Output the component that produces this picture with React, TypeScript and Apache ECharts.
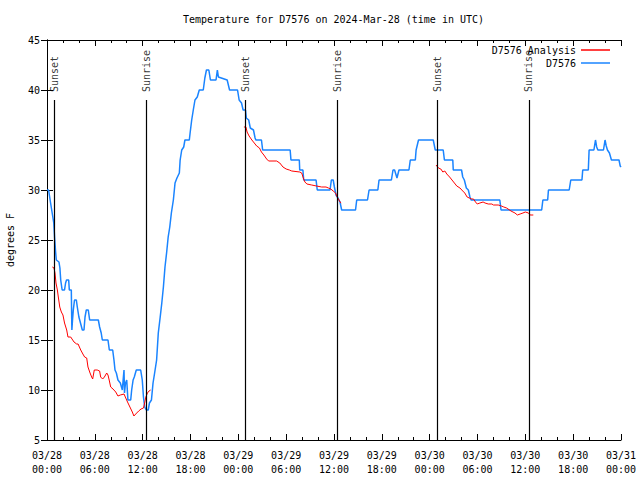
import React, { useEffect, useRef } from "react";
import * as echarts from "echarts";

// time in hours since 2024-03-28 00:00 UTC, temperature in °F
const observedHours = [0, 0.2, 0.45, 0.65, 0.85, 0.95, 1.08, 1.17, 1.5, 1.62, 1.72, 1.9, 2.2, 2.33, 2.45, 2.72, 2.8, 3.05, 3.12, 3.2, 3.3, 3.45, 3.68, 3.8, 4.0, 4.2, 4.43, 4.64, 4.77, 4.93, 5.18, 5.35, 6.44, 6.6, 6.8, 6.94, 7.65, 7.82, 8.24, 8.4, 8.53, 8.7, 8.9, 9.2, 9.45, 9.55, 9.66, 9.72, 9.85, 10.0, 10.15, 10.5, 10.62, 10.8, 10.95, 11.2, 11.75, 11.95, 12.1, 12.25, 12.45, 12.7, 12.85, 13.1, 13.3, 13.5, 13.75, 13.96, 14.2, 14.4, 14.6, 14.8, 15.0, 15.2, 15.4, 15.6, 15.85, 16.06, 16.3, 16.6, 16.7, 16.9, 17.15, 17.3, 17.85, 17.95, 18.15, 18.35, 18.56, 18.85, 19.1, 19.6, 19.8, 20.0, 20.3, 20.5, 21.2, 21.37, 21.5, 22.6, 22.9, 23.9, 24.1, 24.4, 24.6, 24.9, 25.0, 25.3, 25.5, 25.9, 26.1, 26.2, 26.9, 27.05, 30.5, 30.6, 31.65, 31.7, 32.1, 32.2, 33.75, 33.9, 35.5, 35.67, 35.9, 36.05, 36.25, 36.5, 36.75, 36.96, 38.7, 38.85, 40.2, 40.4, 41.5, 41.65, 43.2, 43.4, 43.6, 43.9, 44.15, 45.4, 45.57, 46.2, 46.3, 46.6, 48.45, 48.7, 49.7, 49.85, 50.9, 50.96, 52.0, 52.15, 52.35, 52.6, 52.85, 53.05, 53.2, 56.8, 56.95, 62.05, 62.2, 62.8, 62.9, 65.5, 65.7, 67.1, 67.2, 67.9, 68.0, 68.6, 68.8, 68.95, 69.1, 69.8, 70.0, 70.15, 70.3, 70.55, 70.8, 71.75, 71.9, 72];
const observedTemps = [30, 30, 28.7, 27.7, 26.7, 25.3, 23.8, 23, 22.8, 22.2, 21, 20, 20, 20.7, 21, 21, 20, 20, 16, 17, 18, 19, 19, 18.3, 17.3, 16.7, 16, 16, 17.3, 18, 18, 17, 17, 16.3, 15.7, 15, 15, 14, 14, 13, 12, 11.7, 11, 10.7, 10, 11, 12, 9.7, 10.7, 11, 9, 9, 10, 11, 11.3, 12, 12, 11, 9.3, 8.3, 8, 8, 8.7, 9, 10.7, 11.7, 13, 15.7, 17.3, 18.7, 20.3, 22.3, 23.7, 25.3, 26.3, 27.7, 29, 30.7, 31.2, 31.7, 33, 34, 34.3, 35, 35, 35.7, 37, 38, 39, 39.3, 40, 40, 41.2, 42, 42, 41, 41, 42, 41.3, 41, 40, 40, 39, 38.7, 38, 38, 37.2, 37, 36.2, 36, 35.2, 35, 35, 34, 34, 33, 33, 32, 32, 31, 31, 30, 30, 31, 31, 30.3, 29.5, 29.2, 28.8, 28, 28, 29, 29, 30, 30, 31, 31, 32, 32, 31.2, 32, 32, 33, 33, 34, 35, 35, 34, 34, 33, 33, 32, 32, 31.3, 31, 30.2, 30, 29.3, 29, 29, 28, 28, 29, 29, 30, 30, 31, 31, 32, 32, 34, 34, 35, 34.3, 34, 34, 35, 34.4, 34, 33.7, 33, 33, 32.4, 32.3];

const analysisHours1 = [0.67, 0.88, 1.0, 1.13, 1.3, 1.42, 1.6, 1.8, 2.0, 2.2, 2.47, 2.63, 2.97, 3.39, 3.72, 3.9, 4.23, 4.5, 4.72, 4.98, 5.14, 5.4, 5.6, 5.73, 5.93, 6.3, 6.6, 6.73, 6.98, 7.2, 7.49, 7.65, 7.8, 7.99, 8.28, 8.62, 8.9, 9.2, 9.66, 10.1, 10.4, 10.7, 10.9, 11.25, 11.5, 11.8, 12.1, 12.25, 12.4, 12.6, 12.8, 13.0];
const analysisTemps1 = [22.3, 22.2, 21.7, 20.7, 20, 19.3, 18.3, 17.8, 17.5, 16.7, 16, 15.3, 15.3, 14.8, 14.6, 14.6, 14, 13.6, 13.3, 13.2, 12.3, 11.7, 11.3, 11.1, 12, 12, 11.9, 11.3, 11.1, 11.3, 11.7, 11.5, 11, 10.3, 10.1, 9.8, 9.4, 9.5, 9.6, 8.8, 8.3, 7.8, 7.4, 7.7, 7.9, 8.1, 8.2, 8.7, 9.3, 9.7, 9.9, 10];
const analysisHours2 = [24.7, 24.95, 25.1, 25.35, 25.7, 26.0, 26.3, 26.65, 26.9, 27.2, 27.55, 27.8, 28.8, 29.2, 29.6, 30.0, 30.4, 30.7, 31.7, 31.95, 32.15, 32.35, 32.6, 33.2, 33.8, 34.45, 35.0, 35.3, 35.6, 35.9, 36.2, 36.4, 36.55, 36.76, 36.9];
const analysisTemps2 = [36.3, 36.3, 35.8, 35.4, 35, 34.7, 34.4, 34.2, 33.8, 33.5, 33.1, 32.9, 32.9, 32.7, 32.3, 32.1, 32, 31.9, 31.8, 31.7, 31.2, 30.8, 30.6, 30.5, 30.4, 30.3, 30.3, 30.2, 30.1, 29.9, 29.7, 29.3, 29.1, 28.8, 28.7];
const analysisHours3 = [48.8, 49.1, 49.4, 49.65, 49.9, 50.15, 50.5, 50.8, 51.1, 51.4, 51.8, 52.15, 52.4, 52.7, 52.97, 53.27, 53.5, 53.75, 53.97, 54.3, 54.7, 54.95, 55.35, 55.8, 56.0, 56.6, 57.0, 57.3, 57.65, 58.2, 58.7, 59.0, 59.35, 59.7, 60.0, 60.4, 60.6, 61.0];
const analysisTemps3 = [32.5, 32.2, 32.1, 31.8, 31.9, 31.6, 31.3, 31, 30.7, 30.4, 30.2, 29.9, 29.7, 29.3, 29.2, 29.1, 29.1, 28.8, 28.6, 28.7, 28.8, 28.7, 28.6, 28.6, 28.5, 28.5, 28.4, 28.3, 28.2, 27.9, 27.7, 27.5, 27.6, 27.7, 27.8, 27.7, 27.5, 27.5];

const sunsetHours = [0.88, 24.93, 48.95];
const sunriseHours = [12.42, 36.38, 60.45];
const sunLineTop = 39;
const sunLabelBase = 39.8;

const FONT = "DejaVu Sans Mono";

const zip = (xs: number[], ys: number[]) => xs.map((x, i) => [x, ys[i]]);

export default function App() {
  const ref = useRef<HTMLDivElement>(null);
  useEffect(() => {
    document.body.style.margin = "0";
    const chart = echarts.init(ref.current!, null, { renderer: "svg" });
    const redColor = "#ff0000";
    const blueColor = "#1a84ff";
    const textStyle = { fontFamily: FONT, fontSize: 10, color: "#000" };
    const events = [
      ...sunsetHours.map((h) => ({ h, name: "Sunset" })),
      ...sunriseHours.map((h) => ({ h, name: "Sunrise" })),
    ];
    const xCommon = {
      type: "value" as const,
      min: 0,
      max: 72,
      interval: 6,
      axisLine: { show: true, lineStyle: { color: "#000", width: 1 } },
      axisTick: { show: true, inside: true, length: 6, lineStyle: { color: "#000" } },
      minorTick: { show: true, splitNumber: 3, length: 3, lineStyle: { color: "#000" } },
      splitLine: { show: false },
    };
    const yCommon = {
      type: "value" as const,
      min: 5,
      max: 45,
      interval: 5,
      axisLine: { show: true, lineStyle: { color: "#000", width: 1 } },
      axisTick: { show: true, inside: true, length: 6, lineStyle: { color: "#000" } },
      splitLine: { show: false },
    };
    const analysisSeries = [
      zip(analysisHours1, analysisTemps1),
      zip(analysisHours2, analysisTemps2),
      zip(analysisHours3, analysisTemps3),
    ].map((data) => ({
      name: "D7576 Analysis",
      type: "line" as const,
      data,
      symbol: "none",
      lineStyle: { color: redColor, width: 1 },
      itemStyle: { color: redColor },
      z: 3,
    }));
    const legendCommon = {
      right: 30,
      padding: 0,
      align: "right" as const,
      icon: "rect",
      itemWidth: 29,
      itemHeight: 1.5,
      textStyle,
      itemGap: 0,
    };
    chart.setOption({
      animation: false,
      backgroundColor: "#fff",
      textStyle: { fontFamily: FONT },
      title: {
        text: "Temperature for D7576 on 2024-Mar-28 (time in UTC)",
        left: 183,
        top: 14,
        padding: 0,
        textStyle: { ...textStyle, fontWeight: "normal" },
      },
      legend: [
        { ...legendCommon, data: ["D7576 Analysis"], top: 45 },
        { ...legendCommon, data: ["D7576"], top: 58 },
      ],
      grid: {
        left: 47,
        right: 19,
        top: 40,
        bottom: 40,
        containLabel: false,
        outerBoundsMode: "none",
      },
      xAxis: [
        {
          ...xCommon,
          position: "bottom",
          axisLabel: {
            ...textStyle,
            margin: 8,
            lineHeight: 14,
            formatter: (v: number) => {
              const d = 28 + Math.floor(v / 24);
              const hh = v % 24;
              return `03/${d}\n${String(hh).padStart(2, "0")}:00`;
            },
          },
        },
        { ...xCommon, position: "top", axisLabel: { show: false } },
      ],
      yAxis: [
        {
          ...yCommon,
          position: "left",
          name: "degrees F",
          nameLocation: "middle",
          nameGap: 32,
          nameRotate: 90,
          nameTextStyle: textStyle,
          axisLabel: { ...textStyle, margin: 7 },
        },
        { ...yCommon, position: "right", axisLabel: { show: false } },
      ],
      series: [
        ...analysisSeries,
        {
          name: "D7576",
          type: "line",
          data: zip(observedHours, observedTemps),
          symbol: "none",
          lineStyle: { color: blueColor, width: 1.5 },
          itemStyle: { color: blueColor },
          z: 2,
        },
        {
          name: "sun",
          type: "scatter",
          symbolSize: 0,
          silent: true,
          z: 4,
          data: events.map((e) => ({ value: [e.h, sunLabelBase], name: e.name })),
          label: {
            show: true,
            position: [0, 0],
            formatter: (p: any) => p.name,
            rotate: 90,
            align: "left",
            verticalAlign: "middle",
            ...textStyle,
          },
          markLine: {
            silent: true,
            symbol: "none",
            label: { show: false },
            lineStyle: { color: "#000", width: 1.2, type: "solid" },
            data: events.map((e) => [
              { coord: [e.h, 5] },
              { coord: [e.h, sunLineTop] },
            ]),
          },
        },
      ],
    });
    return () => chart.dispose();
  }, []);
  return <div ref={ref} style={{ width: 640, height: 480 }} />;
}
